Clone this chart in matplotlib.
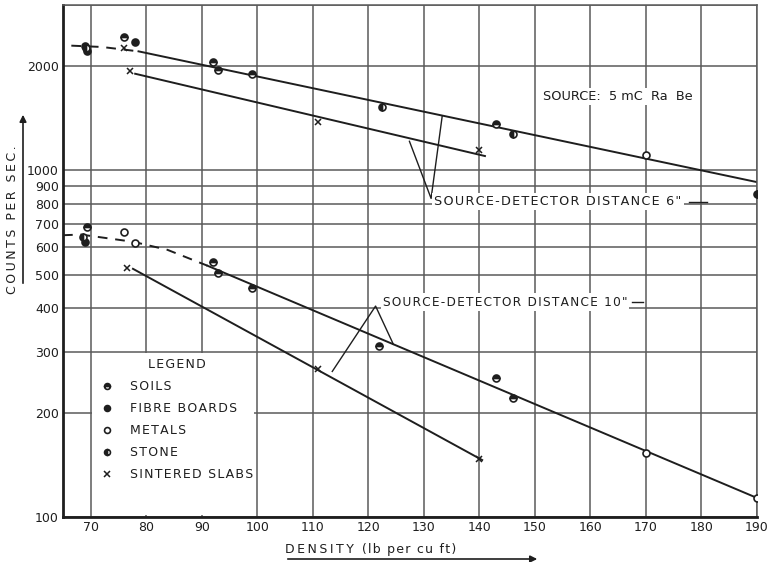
import matplotlib
matplotlib.use("Agg")
from matplotlib import pyplot as plt
from matplotlib.patches import FancyArrowPatch, Rectangle
from matplotlib.ticker import FixedLocator, NullLocator

# density (lb per cu ft) and counts per sec
# 6" source-detector distance
soils6_x = [76, 92, 93, 99, 143]
soils6_y = [2430, 2056, 1950, 1897, 1360]
fibre6_x = [69, 69.4, 78]
fibre6_y = [2290, 2210, 2350]
stone6_x = [69.2, 122.5, 146, 190]
stone6_y = [2250, 1523, 1271, 857]
metal6_x = [170]
metal6_y = [1105]
slab6_x = [76, 77, 111, 140]
slab6_y = [2258, 1936, 1377, 1143]

# 10" source-detector distance
soils10_x = [69.4, 92, 93, 99, 122, 143, 146]
soils10_y = [688, 545, 506, 458, 311, 251, 220]
fibre10_x = [68.9]
fibre10_y = [622]
stone10_x = [68.6]
stone10_y = [644]
metal10_x = [76, 78, 170, 190]
metal10_y = [666, 619, 153, 113.5]
slab10_x = [76.6, 111, 140]
slab10_y = [523, 267, 147]

# fitted lines
dash6_x = [66.5, 72, 78.6]
dash6_y = [2290, 2270, 2205]
fit6_x = [78.6, 190]
fit6_y = [2205, 925]
slabfit6_x = [78, 141]
slabfit6_y = [1900, 1100]

dash10_x = [65, 68.2, 77.7, 83.8, 91]
dash10_y = [650, 653, 622, 590, 531]
fit10_x = [91, 190]
fit10_y = [531, 113.5]
slabfit10_x = [77.6, 140.5]
slabfit10_y = [520, 146]

xticks = [70, 80, 90, 100, 110, 120, 130, 140, 150, 160, 170, 180, 190]
yticks = [100, 200, 300, 400, 500, 600, 700, 800, 900, 1000, 2000, 3000]
ylabels = ["100", "200", "300", "400", "500", "600", "700", "800", "900", "1000", "2000", ""]

ink = "#1e1e1e"
grid = "#5a5a5a"
plt.rcParams["font.family"] = ["DejaVu Sans"]


def spaced(s, sp="\u200a"):
    # wide lettering like the stencil text of the original
    return sp.join(s)


fig = plt.figure(figsize=(7.73, 5.62), dpi=100)
ax = fig.add_axes([63 / 773, 45 / 562, 694 / 773, 512 / 562])
ax.set_yscale("log")
ax.set_xlim(65, 190)
ax.set_ylim(100, 3000)

ax.xaxis.set_major_locator(FixedLocator(xticks))
ax.yaxis.set_major_locator(FixedLocator(yticks))
ax.yaxis.set_minor_locator(NullLocator())
ax.set_yticklabels(ylabels)
ax.tick_params(length=0, labelsize=9, colors=ink, pad=3)
ax.grid(True, color=grid, lw=1.1)
ax.set_axisbelow(True)
for side in ["left", "bottom"]:
    ax.spines[side].set_linewidth(2.0)
    ax.spines[side].set_color(ink)
for side in ["top", "right"]:
    ax.spines[side].set_linewidth(1.1)
    ax.spines[side].set_color(grid)

# white area behind the legend
ax.add_patch(Rectangle((0.042, 0.003), 0.233, 0.317, transform=ax.transAxes,
                       facecolor="white", edgecolor="none", zorder=1))

# fitted lines
ax.plot(dash6_x, dash6_y, color=ink, lw=1.4, ls=(0, (5, 4)))
ax.plot(fit6_x, fit6_y, color=ink, lw=1.4)
ax.plot(slabfit6_x, slabfit6_y, color=ink, lw=1.4)
ax.plot(dash10_x, dash10_y, color=ink, lw=1.4, ls=(0, (5, 4)))
ax.plot(fit10_x, fit10_y, color=ink, lw=1.4)
ax.plot(slabfit10_x, slabfit10_y, color=ink, lw=1.4)

# points
mk = dict(ls="none", color=ink, markersize=5, markeredgewidth=1.2, markerfacecoloralt="white", zorder=5)
soils = ax.plot(soils6_x + soils10_x, soils6_y + soils10_y, "o", fillstyle="top",
                label=spaced("SOILS"), **mk)[0]
fibre = ax.plot(fibre6_x + fibre10_x, fibre6_y + fibre10_y, "o",
                label=spaced("FIBRE BOARDS"), **mk)[0]
metal = ax.plot(metal6_x + metal10_x, metal6_y + metal10_y, "o", markerfacecolor="white",
                label=spaced("METALS"), **mk)[0]
stone = ax.plot(stone6_x + stone10_x, stone6_y + stone10_y, "o", fillstyle="left",
                label=spaced("STONE"), **mk)[0]
slabs = ax.plot(slab6_x + slab10_x, slab6_y + slab10_y, "x", label=spaced("SINTERED SLABS"),
                **dict(mk, markeredgewidth=1.1))[0]

# annotations
box = dict(facecolor="white", edgecolor="none", pad=1.5)
ax.text(151.5, 1637, "SOURCE:  5 mC  Ra  Be", fontsize=9.3, color=ink, va="center", bbox=box)
ax.text(131.9, 813, spaced('SOURCE-DETECTOR DISTANCE 6"'), fontsize=9.2, color=ink,
        va="center", bbox=box)
ax.plot([177.8, 181], [813, 813], color=ink, lw=1)
ax.plot([127.4, 131.3, 133.3], [1213, 830, 1434], color=ink, lw=1)
ax.text(122.6, 417, spaced('SOURCE-DETECTOR DISTANCE 10"'), fontsize=8.7, color=ink,
        va="center", bbox=box)
ax.plot([167.5, 169.5], [417, 417], color=ink, lw=1)
ax.plot([113.5, 121.3, 124.5], [263, 406, 315], color=ink, lw=1)

# legend
leg = ax.legend(handles=[soils, fibre, metal, stone, slabs], title=spaced("LEGEND"),
                loc="lower left", bbox_to_anchor=(0.04, 0.05), frameon=False, fontsize=9,
                title_fontsize=9, labelspacing=0.72, handlelength=1.0, handletextpad=1.35,
                borderpad=0.3, markerscale=0.85)
for t in leg.get_texts():
    t.set_color(ink)
leg.get_title().set_color(ink)

# axis labels with arrows
fig.text(285 / 773, 1 - 549 / 562, spaced("DENSITY", "\u2009") + "  " + spaced("(lb per cu ft)"),
         fontsize=9, color=ink, ha="left", va="center")
fig.add_artist(FancyArrowPatch((285 / 773, 1 - 559 / 562), (540 / 773, 1 - 559 / 562),
                               transform=fig.transFigure, arrowstyle="-|>",
                               mutation_scale=10, color=ink, lw=1.2))
fig.text(13 / 773, 1 - 220 / 562, spaced("COUNTS PER SEC.", "\u2009"), fontsize=9, color=ink,
         rotation=90, ha="center", va="center")
fig.add_artist(FancyArrowPatch((23 / 773, 1 - 286 / 562), (23 / 773, 1 - 112 / 562),
                               transform=fig.transFigure, arrowstyle="-|>",
                               mutation_scale=10, color=ink, lw=1.2))

fig.savefig("out.png", dpi=100)
